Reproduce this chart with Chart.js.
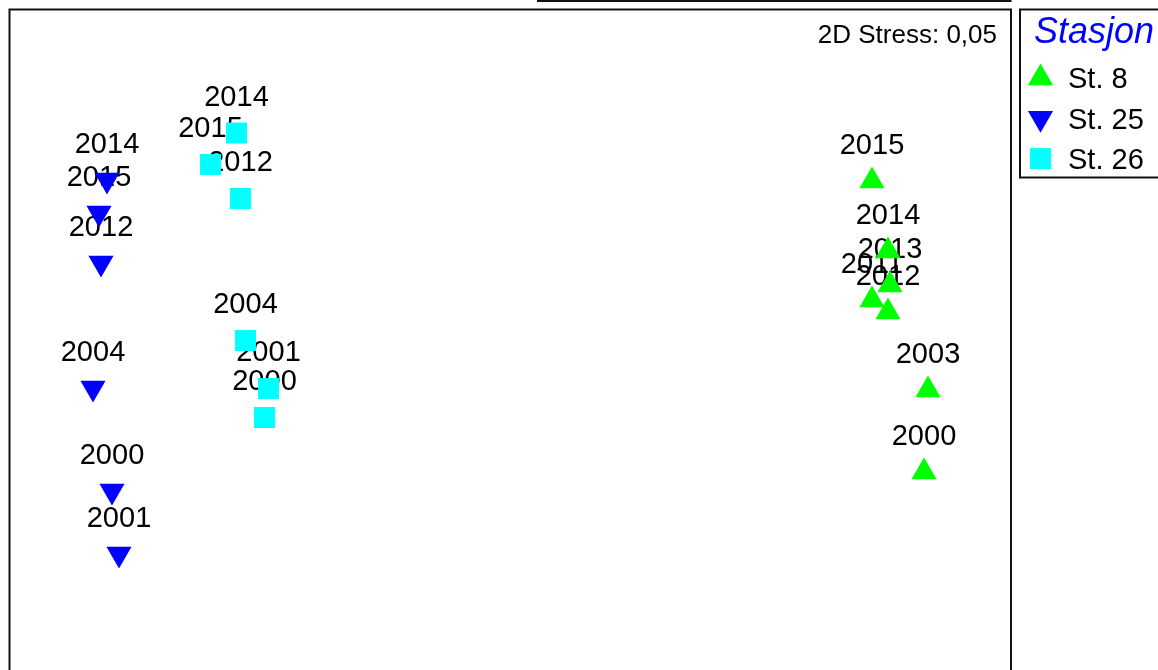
<!DOCTYPE html>
<html>
<head>
<meta charset="utf-8">
<title>MDS Stasjon</title>
<script src="https://cdn.jsdelivr.net/npm/chart.js"></script>
<style>
  html, body { margin: 0; padding: 0; background: #fff; overflow: hidden; }
  canvas { display: block; }
</style>
</head>
<body>
<canvas id="mds" width="1158" height="670"></canvas>
<script>
// MDS ordination coordinates, one set per station
const years8 = ["2015", "2014", "2013", "2011", "2012", "2003", "2000"];
const x8 = [3.62, 3.78, 3.80, 3.62, 3.78, 4.18, 4.14];
const y8 = [1.59, 0.89, 0.55, 0.40, 0.28, -0.50, -1.32];

const years25 = ["2014", "2015", "2012", "2004", "2000", "2001"];
const x25 = [-4.03, -4.11, -4.09, -4.17, -3.98, -3.91];
const y25 = [1.60, 1.27, 0.77, -0.48, -1.51, -2.14];

const years26 = ["2014", "2015", "2012", "2004", "2001", "2000"];
const x26 = [-2.735, -2.995, -2.695, -2.645, -2.415, -2.455];
const y26 = [2.07, 1.755, 1.415, -0.005, -0.485, -0.775];

const stationNames = ["St. 8", "St. 25", "St. 26"];
const stressText = "2D Stress: 0,05";
const legendTitle = "Stasjon";

const FONT = '"Liberation Sans", Arial, sans-serif';

function pts(xs, ys, yrs) {
  return xs.map((x, i) => ({ x: x, y: ys[i], year: yrs[i] }));
}

// year labels sit above each marker, markers are painted over them
const yearLabels = {
  id: "yearLabels",
  beforeDatasetsDraw(chart) {
    const ctx = chart.ctx;
    ctx.save();
    ctx.font = "29px " + FONT;
    ctx.fillStyle = "#000";
    ctx.textAlign = "center";
    ctx.textBaseline = "alphabetic";
    chart.data.datasets.forEach((ds, di) => {
      chart.getDatasetMeta(di).data.forEach((el, i) => {
        ctx.fillText(ds.data[i].year, el.x, el.y - 27.4);
      });
    });
    ctx.restore();
  }
};

function marker(ctx, style, rotation, r, x, y) {
  ctx.beginPath();
  if (style === "triangle") {
    let rad = rotation * Math.PI / 180;
    for (let k = 0; k < 3; k++) {
      const px = x + Math.sin(rad) * r;
      const py = y - Math.cos(rad) * r;
      if (k === 0) ctx.moveTo(px, py); else ctx.lineTo(px, py);
      rad += 2 * Math.PI / 3;
    }
    ctx.closePath();
  } else {
    const s = Math.SQRT1_2 * r;
    ctx.rect(x - s, y - s, 2 * s, 2 * s);
  }
  ctx.fill();
}

// frame, stress note and station legend
const frame = {
  id: "frame",
  afterDraw(chart) {
    const ctx = chart.ctx;
    const a = chart.chartArea;
    ctx.save();
    ctx.strokeStyle = "#111";
    ctx.lineWidth = 2;
    ctx.strokeRect(a.left - 0.5, a.top - 0.5, a.right - a.left + 0.5, a.bottom - a.top + 20);

    ctx.fillStyle = "#111";
    ctx.fillRect(537, 0, a.right - 537 + 0.5, 2);

    ctx.fillStyle = "#000";
    ctx.font = "26px " + FONT;
    ctx.textAlign = "right";
    ctx.fillText(stressText, 997, 43);

    // legend box
    ctx.strokeRect(1020, 9.5, 200, 168);
    ctx.font = "italic 36px " + FONT;
    ctx.textAlign = "left";
    ctx.fillStyle = "#0000ff";
    ctx.fillText(legendTitle, 1034, 43);

    ctx.font = "29px " + FONT;
    chart.data.datasets.forEach((ds, i) => {
      const cy = 78 + i * 40.3;
      ctx.fillStyle = ds.backgroundColor;
      marker(ctx, ds.pointStyle, ds.rotation || 0, ds.pointRadius, 1040.5, cy);
      ctx.fillStyle = "#000";
      ctx.fillText(stationNames[i], 1068, cy + 10.4);
    });
    ctx.restore();
  }
};

new Chart(document.getElementById("mds"), {
  type: "scatter",
  data: {
    datasets: [
      {
        label: stationNames[0],
        data: pts(x8, y8, years8),
        pointStyle: "triangle",
        rotation: 0,
        pointRadius: 14.5,
        backgroundColor: "#00ff00",
        borderWidth: 0
      },
      {
        label: stationNames[1],
        data: pts(x25, y25, years25),
        pointStyle: "triangle",
        rotation: 180,
        pointRadius: 14.5,
        backgroundColor: "#0000ff",
        borderWidth: 0
      },
      {
        label: stationNames[2],
        data: pts(x26, y26, years26),
        pointStyle: "rect",
        pointRadius: 14.8,
        backgroundColor: "#00ffff",
        borderWidth: 0
      }
    ]
  },
  options: {
    responsive: false,
    animation: false,
    devicePixelRatio: 1,
    layout: { autoPadding: false, padding: { left: 10, top: 10, right: 147, bottom: 0 } },
    scales: {
      x: { type: "linear", min: -5, max: 5.01, display: false },
      y: { type: "linear", min: -3.3, max: 3.3, display: false }
    },
    plugins: {
      legend: { display: false },
      tooltip: { enabled: false }
    },
    elements: { point: { hoverRadius: 14.5 } }
  },
  plugins: [yearLabels, frame]
});
</script>
</body>
</html>
